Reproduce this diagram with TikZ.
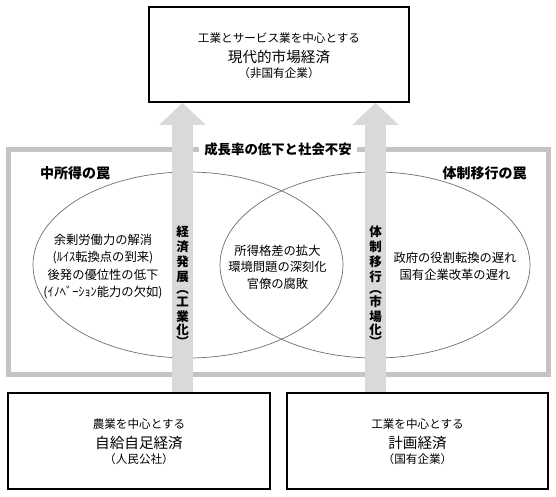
\documentclass[tikz,border=0pt]{standalone}
\usepackage{fontspec}
\setmainfont{Noto Sans CJK JP}
\usetikzlibrary{arrows.meta,shapes.geometric}
\definecolor{arrowgray}{HTML}{D9D9D9}
\definecolor{framegray}{HTML}{C4C4C4}
\definecolor{ellgray}{HTML}{6E6E6E}
\newcommand{\fsS}{\fontsize{11.6pt}{20pt}\selectfont}
\newcommand{\fsL}{\fontsize{14.6pt}{20pt}\selectfont}
\begin{document}
\begin{tikzpicture}[x=1pt,y=-1pt,
  econbox/.style={draw=black, line width=1.6pt, minimum height=95pt, inner sep=0pt},
  boxtext/.style={align=center, inner sep=0pt, font=\fsS},
  trapframe/.style={draw=framegray, line width=5pt, inner sep=0pt},
  trapellipse/.style={ellipse, draw=ellgray, line width=0.7pt, minimum width=310pt, minimum height=186pt, inner sep=0pt},
  elltext/.style={align=center, inner sep=0pt, font=\fontsize{12.3pt}{17.6pt}\selectfont},
  traptitle/.style={inner sep=0pt, font=\fontsize{14pt}{16pt}\selectfont\bfseries},
  bigarrow/.style={draw=arrowgray, line width=21pt, -{Triangle[width=45pt,length=22pt]}},
  arrowtext/.style={align=center, inner sep=0pt, font=\fontsize{12.5pt}{15pt}\selectfont\bfseries}
]
\useasboundingbox (0,0) rectangle (556,496);

% gray frame and its label
\node[trapframe, minimum width=540pt, minimum height=225.5pt] (frame) at (278.5,261.75) {};
\node[fill=white, inner xsep=5pt, inner ysep=2pt, font=\fontsize{13.4pt}{15pt}\selectfont\bfseries] (lbl) at (278,149) {成長率の低下と社会不安};

% trap titles
\node[traptitle] (mit) at (75,173) {中所得の罠};
\node[traptitle] (stt) at (484.5,173) {体制移行の罠};

% ellipses
\node[trapellipse] (le) at (188,265) {};
\node[trapellipse] (re) at (375,265) {};

% ellipse texts
\node[elltext] (lt) at (103,266.5) {余剰労働力の解消\\(ﾙｲｽ転換点の到来)\\後発の優位性の低下\\(ｲﾉﾍﾞｰｼｮﾝ能力の欠如)};
\node[elltext, font=\fontsize{12.3pt}{16.6pt}\selectfont] (ct) at (277.5,267) {所得格差の拡大\\環境問題の深刻化\\官僚の腐敗};
\node[elltext, font=\fontsize{12.3pt}{17pt}\selectfont] (rt) at (455,266.5) {政府の役割転換の遅れ\\国有企業改革の遅れ};

% boxes
\node[econbox, minimum width=260pt] (top) at (279,54.5) {};
\node[econbox, minimum width=262pt, minimum height=96pt] (bl) at (139,441) {};
\node[econbox, minimum width=261pt, minimum height=96pt] (br) at (417.5,441) {};

\node[boxtext] (toptext) at (279,55.4) {工業とサービス業を中心とする\\{\fsL 現代的市場経済}\\[-5pt]（非国有企業）};
\node[boxtext] (bltext) at (139,441.8) {農業を中心とする\\{\fsL 自給自足経済}\\[-5pt]（人民公社）};
\node[boxtext] (brtext) at (417.5,441.8) {工業を中心とする\\{\fsL 計画経済}\\[-5pt]（国有企業）};

% big arrows
\coordinate (ax1) at (182.5,0);
\coordinate (ax2) at (375.5,0);
\draw[bigarrow] (bl.north -| ax1) -- (top.south -| ax1);
\draw[bigarrow] (br.north -| ax2) -- (top.south -| ax2);

% arrow texts
\node[arrowtext] (at1) at (182.5,286) {経\\済\\発\\展\\[-2.5pt]︵\\[-2.5pt]工\\業\\[-2pt]化\\[-2.5pt]︶};
\node[arrowtext] (at2) at (375.5,286) {体\\制\\移\\行\\[-2.5pt]︵\\[-2.5pt]市\\場\\[-2pt]化\\[-2.5pt]︶};
\end{tikzpicture}
\end{document}
